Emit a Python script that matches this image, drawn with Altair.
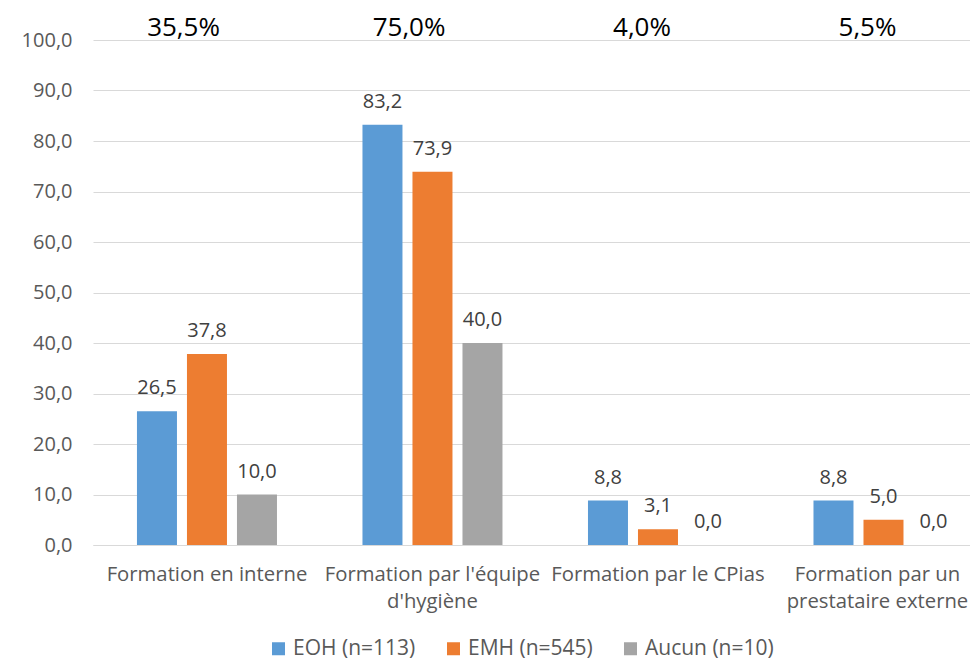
import altair as alt
import pandas as pd

categories = [
    "Formation en interne",
    "Formation par l'équipe\nd'hygiène",
    "Formation par le CPias",
    "Formation par un\nprestataire externe",
]
series = ["EOH (n=113)", "EMH (n=545)", "Aucun (n=10)"]
eoh = [26.5, 83.2, 8.8, 8.8]
emh = [37.8, 73.9, 3.1, 5.0]
aucun = [10.0, 40.0, 0.0, 0.0]
totals = ["35,5%", "75,0%", "4,0%", "5,5%"]
colors = ["#5B9BD5", "#ED7D31", "#A5A5A5"]
y_ticks = [0, 10, 20, 30, 40, 50, 60, 70, 80, 90, 100]

rows = []
for s, vals in zip(series, [eoh, emh, aucun]):
    for c, v in zip(categories, vals):
        rows.append({"cat": c, "serie": s, "value": v,
                     "label": f"{v:.1f}".replace(".", ",")})
df = pd.DataFrame(rows)
df_tot = pd.DataFrame({"cat": categories, "total": totals})

FONT = "Open Sans"

x_scale = alt.Scale(domain=categories, paddingInner=0.3348, paddingOuter=0.1119,
                    align=0.772, round=False)
xo_scale = alt.Scale(domain=series, paddingInner=0.2, paddingOuter=0.1)
y_scale = alt.Scale(domain=[0, 100], nice=False)

x_enc = alt.X("cat:N", scale=x_scale, sort=categories,
              axis=alt.Axis(title=None, labelAngle=0,
                            labelExpr="split(datum.label, '\\n')",
                            labelFont=FONT, labelFontSize=20.3, labelColor="#595959",
                            labelLineHeight=27, labelPadding=19, ticks=False,
                            labelOffset={"condition": {"test": "datum.index == 1", "value": -6},
                                         "value": 0},
                            domainColor="#d9d9d9", domainWidth=1,
                            labelOverlap=False, labelBound=False, labelLimit=0))
y_enc = alt.Y("value:Q", scale=y_scale,
              axis=alt.Axis(title=None, values=y_ticks,
                            labelExpr="replace(format(datum.value, '.1f'), '.', ',')",
                            grid=True, gridColor="#d9d9d9", gridWidth=1,
                            domain=False, ticks=False, labelPadding=21,
                            labelFont=FONT, labelFontSize=20, labelColor="#595959"))
xo_enc = alt.XOffset("serie:N", scale=xo_scale, sort=series)

bars = alt.Chart(df).mark_bar().encode(
    x=x_enc,
    xOffset=xo_enc,
    y=y_enc,
    color=alt.Color("serie:N", scale=alt.Scale(domain=series, range=colors),
                    legend=alt.Legend(orient="none", legendX=175, legendY=598,
                                      direction="horizontal", title=None,
                                      symbolType="square", symbolSize=169,
                                      symbolStrokeWidth=0, symbolOpacity=1,
                                      labelFont=FONT, labelFontSize=21,
                                      labelColor="#595959", columnPadding=27,
                                      labelOffset=4)),
)

values = alt.Chart(df).mark_text(baseline="alphabetic", dy=-17, font=FONT,
                                 fontSize=20, color="#404040").encode(
    x=alt.X("cat:N", scale=x_scale, sort=categories),
    xOffset=xo_enc,
    y=alt.Y("value:Q", scale=y_scale),
    text="label:N",
)

tops = alt.Chart(df_tot).mark_text(baseline="middle", align="right", dx=13,
                                   font=FONT, fontSize=26, color="#000000").encode(
    x=alt.X("cat:N", scale=x_scale, sort=categories),
    y=alt.value(-12),
    text="total:N",
)

chart = alt.layer(bars, values, tops).properties(
    width=877, height=505,
    autosize=alt.AutoSizeParams(type="none"),
    padding={"left": 85, "top": 32, "right": 0, "bottom": 116},
).configure_view(stroke=None)

chart.save("out.html", embed_options={"renderer": "svg", "actions": False})
